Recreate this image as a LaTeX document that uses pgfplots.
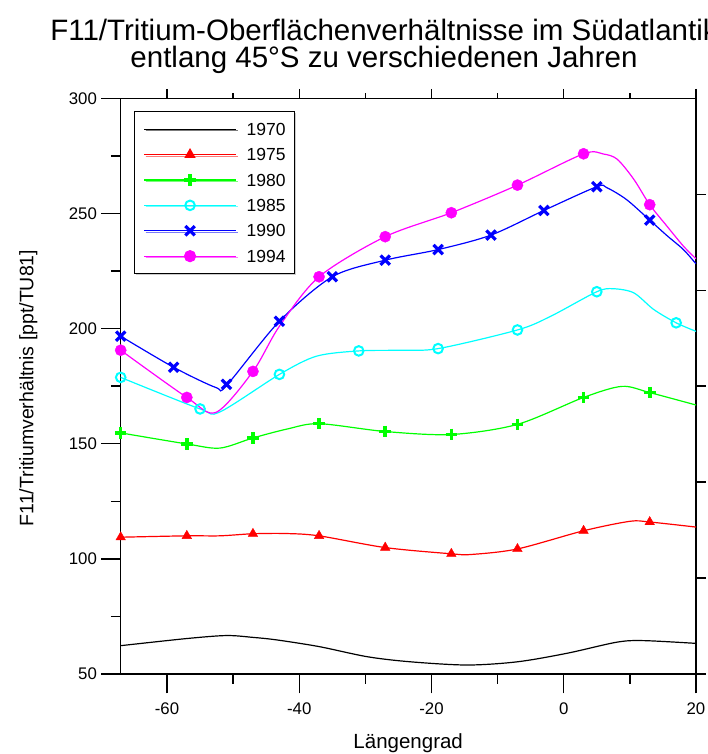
\documentclass[border=0pt]{standalone}
\usepackage{fontspec}
\setmainfont{Liberation Sans}
\usepackage{pgfplots}
\pgfplotsset{compat=1.18}
\usetikzlibrary{shadows}
\definecolor{cR}{RGB}{255,0,0}
\definecolor{cG}{RGB}{0,255,0}
\definecolor{cC}{RGB}{0,255,255}
\definecolor{cB}{RGB}{0,0,255}
\definecolor{cM}{RGB}{255,0,255}
\pgfplotsset{
  lgmark/.style={legend image code/.code={\draw[#1,line width=1.1pt] (0pt,0pt) -- (92pt,0pt);
    \draw[##1] plot coordinates {(46pt,0pt)};}},
}
\begin{document}
\begin{tikzpicture}[x=1pt,y=1pt]
\path[use as bounding box] (-120.7pt,-80pt) rectangle (587.3pt,674pt);
\pgfplotsset{
  every axis/.append style={
    scale only axis, width=575.3pt, height=575.7pt,
    xmin=-67, xmax=20, ymin=50, ymax=300,
    axis line style={line width=1.3pt},
    every tick/.append style={line width=1.3pt, black},
    tick align=outside,
  },
}
% secondary axis: top and right ticks
\begin{axis}[at={(0pt,0pt)}, anchor=south west,
  xtick pos=right, ytick pos=right,
  xtick={-60,-40,-20,0,20}, minor xtick={-50,-30,-10,10},
  ytick={50,91.667,133.333,175,216.667,258.333},
  xticklabels={}, yticklabels={},
  major tick length=9.5pt, minor tick length=5pt,
]
\end{axis}
\begin{axis}[at={(0pt,0pt)}, anchor=south west,
  xtick pos=left, ytick pos=left,
  xtick={-60,-40,-20,0,20}, minor xtick={-50,-30,-10,10},
  xticklabels={-60,-40,-20,0,20},
  ytick={50,100,150,200,250,300}, minor ytick={75,125,175,225,275},
  yticklabels={50,100,150,200,250,300},
  major tick length=19.3pt, minor tick length=9.7pt,
  ticklabel style={font=\fontsize{16.8}{20}\selectfont},
  xticklabel style={yshift=-6pt},
  yticklabel style={xshift=-1pt},
  legend style={at={(0.0231,0.978)}, anchor=north west,
    draw=black, line width=1pt, fill=white,
    drop shadow={shadow xshift=1.5pt, shadow yshift=-1.5pt, fill=gray!80},
    font=\fontsize{17.5}{20}\selectfont,
    nodes={inner sep=0pt, text height=12.4pt, text depth=0pt},
    row sep=13pt, column sep=10pt, inner xsep=9pt, inner ysep=11.5pt},
  legend cell align=left,
]
% 1970
\addplot[black, line width=1.2pt, smooth, lgmark=black]
  coordinates {(-67,62.3) (-57,65.4) (-51,66.7) (-47,65.9) (-43.4,64.8) (-37,61.9)
  (-29.7,57.5) (-23.2,55.3) (-14.6,53.9) (-7,55.3) (0.5,59.0) (8,63.8) (12,64.5) (20,63.3)};
\addlegendentry{1970}
% 1975
\addplot[cR, line width=1.2pt, smooth, forget plot]
  coordinates {(-67,109.4) (-57,110) (-52,110) (-47,110.9) (-42,111.0) (-37,110)
  (-27,104.9) (-17,102.2) (-14,101.9) (-7,104.3) (3,112.2) (10,116.3) (13,116.0) (20,113.8)};
\addplot[cR, only marks, mark=triangle*, mark size=5.5pt, lgmark=cR]
  coordinates {(-67,109.4) (-57,110) (-47,110.9) (-37,110) (-27,104.9) (-17,102.2) (-7,104.3) (3,112.2) (13,116.0)};
\addlegendentry{1975}
% 1980
\addplot[cG, line width=1.2pt, smooth, forget plot]
  coordinates {(-67,154.7) (-57,149.9) (-52,148.1) (-47,152.5) (-41.8,156.4) (-37,158.7)
  (-27,155.3) (-17,154.0) (-7,158.4) (3,170.1) (8.8,174.9) (13,172.2) (20,166.8)};
\addplot[cG, only marks, mark=+, mark size=5.8pt, mark options={line width=3.6pt}, lgmark=cG]
  coordinates {(-67,154.7) (-57,149.9) (-47,152.5) (-37,158.7) (-27,155.3) (-17,154.0) (-7,158.4) (3,170.1) (13,172.2)};
\addlegendentry{1980}
% 1985
\addplot[cC, line width=1.2pt, smooth, forget plot]
  coordinates {(-67,178.8) (-55,165.1) (-52,163.8) (-43,180.1) (-37.4,188) (-31,190.3)
  (-25,190.6) (-19,191.3) (-7,199.4) (-2,205.3) (5,216.0) (7.5,217.3) (10.6,215.5) (13.6,208.3) (17,202.5) (20,198.8)};
\addplot[cC, only marks, mark=o, mark size=4.8pt, mark options={line width=2pt}, lgmark=cC]
  coordinates {(-67,178.8) (-55,165.1) (-43,180.1) (-31,190.3) (-19,191.3) (-7,199.4) (5,216.0) (17,202.5)};
\addlegendentry{1985}
% 1990
\addplot[cB, line width=1.2pt, smooth, forget plot]
  coordinates {(-67,196.7) (-59,183.2) (-52.6,174.4) (-51,175.3) (-43,203.2) (-35,222.5)
  (-27,229.7) (-19,234.3) (-11,240.6) (-3,251.3) (5,261.6) (6.5,261.2) (9.5,256) (13,247.1) (15.6,240.4) (18.1,234.3) (20,228.1)};
\addplot[cB, only marks, mark=x, mark size=6.6pt, mark options={line width=3.2pt}, lgmark=cB]
  coordinates {(-67,196.7) (-59,183.2) (-51,175.8) (-43,203.2) (-35,222.5) (-27,229.7) (-19,234.3) (-11,240.6) (-3,251.3) (5,261.6) (13,247.1)};
\addlegendentry{1990}
% 1994
\addplot[cM, line width=1.2pt, smooth, forget plot]
  coordinates {(-67,190.6) (-57,170.1) (-52.6,163.6) (-47,181.4) (-43,201) (-37,222.5)
  (-27,239.9) (-17,250.3) (-7,262.3) (3,275.9) (6,275.8) (8.1,273.5) (10.6,264.8) (13,253.8) (15.6,244.5) (18.1,235.8) (20,230.3)};
\addplot[cM, only marks, mark=*, mark size=5.6pt, lgmark=cM]
  coordinates {(-67,190.6) (-57,170.1) (-47,181.4) (-37,222.5) (-27,239.9) (-17,250.3) (-7,262.3) (3,275.9) (13,253.8)};
\addlegendentry{1994}
\end{axis}
\node[anchor=base, font=\fontsize{29.5}{34}\selectfont] at (263.3pt,633pt) {F11/Tritium-Oberflächenverhältnisse im Südatlantik};
\node[anchor=base, font=\fontsize{29.5}{34}\selectfont] at (263.3pt,606pt) {entlang 45°S zu verschiedenen Jahren};
\node[anchor=base, font=\fontsize{20.5}{24}\selectfont] at (287.5pt,-74pt) {Längengrad};
\node[rotate=90, anchor=base, font=\fontsize{19.5}{24}\selectfont] at (-87.4pt,286pt) {F11/Tritiumverhältnis [ppt/TU81]};
\end{tikzpicture}
\end{document}
